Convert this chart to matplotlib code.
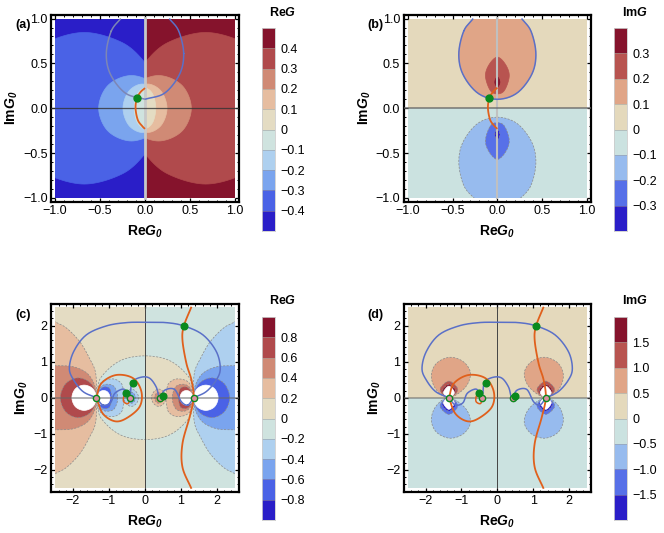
import numpy as np
import matplotlib
matplotlib.use('agg')
import matplotlib.pyplot as plt
from matplotlib.colors import ListedColormap
from matplotlib.patches import Rectangle

plt.rcParams['font.family'] = ['Liberation Sans', 'DejaVu Sans']
plt.rcParams['mathtext.fontset'] = 'custom'
plt.rcParams['mathtext.rm'] = 'Liberation Sans'
plt.rcParams['mathtext.bf'] = 'Liberation Sans:bold'
plt.rcParams['mathtext.bfit'] = 'Liberation Sans:italic:bold'

# colour levels, top of the bar first
colors10 = ['#85132c', '#b04a4c', '#d08a75', '#e6bda0', '#e4dcc3',
            '#cfe3df', '#aed0ef', '#7aa4ee', '#4a62e6', '#2a1ec8']
colors8 = ['#85132c', '#b85450', '#e0a587', '#e4d9bc',
           '#cbe2e0', '#97bbee', '#5770e8', '#2a1ec8']

ticks_a = [0.4, 0.3, 0.2, 0.1, 0, -0.1, -0.2, -0.3, -0.4]
ticks_b = [0.3, 0.2, 0.1, 0, -0.1, -0.2, -0.3]
ticks_c = [0.8, 0.6, 0.4, 0.2, 0, -0.2, -0.4, -0.6, -0.8]
ticks_d = [1.5, 1.0, 0.5, 0, -0.5, -1.0, -1.5]

# (a) contours, upper half only, on the right side
a_outer = [(-0.17, 0.0), (-0.115, 0.3), (0.0, 0.508), (0.25, 0.73), (0.675, 0.845), (1.1, 0.73),
           (1.35, 0.508), (1.52, 0.0)]
a_mid = [(-0.215, 0.0), (-0.11, 0.256), (0.15, 0.365), (0.41, 0.256), (0.515, 0.0)]
a_small = [(-0.185, 0.0), (-0.12, 0.19), (0.03, 0.27), (0.18, 0.19), (0.245, 0.0)]
a_lens = [(-0.12, 0.0), (-0.085, 0.16), (0.0, 0.225), (0.085, 0.16), (0.12, 0.0)]

# (b) contours in the upper half plane
b_egg = [(0.0, 0.1), (0.22, 0.17), (0.385, 0.38), (0.43, 0.61), (0.375, 0.86), (0.26, 1.0),
         (0.14, 1.08), (0.0, 1.1), (-0.14, 1.08), (-0.26, 1.0), (-0.375, 0.86), (-0.43, 0.61),
         (-0.385, 0.38), (-0.22, 0.17)]
b_petal = [(0.0, 0.16), (0.08, 0.2), (0.133, 0.36), (0.09, 0.49), (0.0, 0.57),
           (-0.09, 0.49), (-0.133, 0.36), (-0.08, 0.2)]
b_core = [(0.0, 0.235), (0.02, 0.26), (0.028, 0.29), (0.02, 0.325), (0.0, 0.35),
          (-0.02, 0.325), (-0.028, 0.29), (-0.02, 0.26)]

# (c) contours, upper half only, for x<0. Right side is the mirror with flipped sign
c_center = [(-1.35, 0.0), (-1.3, 0.35), (-1.21, 0.58), (-0.89, 0.9), (-0.52, 1.09), (0.0, 1.16),
            (0.52, 1.09), (0.89, 0.9), (1.21, 0.58), (1.3, 0.35), (1.35, 0.0)]
c_out1 = [(-3.0, 0.0), (-3.0, 2.45), (-2.5, 2.11), (-2.18, 1.93), (-1.81, 1.55), (-1.54, 1.09),
          (-1.37, 0.68), (-1.35, 0.0)]
c_out2 = [(-3.0, 0.0), (-3.0, 0.92), (-2.5, 0.89), (-2.0, 0.86), (-1.61, 0.68), (-1.4, 0.35), (-1.35, 0.0)]
c_out3 = [(-2.35, 0.0), (-2.2, 0.39), (-1.85, 0.55), (-1.5, 0.39), (-1.35, 0.0)]
c_hole1 = [(-2.03, 0.0), (-1.93, 0.25), (-1.69, 0.35), (-1.45, 0.25), (-1.35, 0.0)]
c_in1 = [(-1.33, 0.0), (-1.29, 0.3), (-1.15, 0.47), (-0.87, 0.52), (-0.66, 0.4), (-0.6, 0.2), (-0.58, 0.0)]
c_in2 = [(-1.33, 0.0), (-1.27, 0.25), (-1.1, 0.37), (-0.88, 0.33), (-0.78, 0.15), (-0.76, 0.0)]
c_in3 = [(-1.33, 0.0), (-1.25, 0.22), (-1.13, 0.3), (-0.98, 0.25), (-0.93, 0.0)]
c_hole2 = [(-1.33, 0.0), (-1.27, 0.15), (-1.15, 0.2), (-1.03, 0.15), (-0.97, 0.0)]
c_blob1 = [(-0.59, 0.0), (-0.52, 0.16), (-0.38, 0.24), (-0.24, 0.16), (-0.18, 0.0)]
c_blob2 = [(-0.5, 0.0), (-0.44, 0.12), (-0.36, 0.15), (-0.29, 0.09), (-0.27, 0.0)]

# (d) lobes above the axis on the left. Mirrored to all four corners
d_lobe1 = [(-1.35, 0.0), (-1.7, 0.22), (-1.84, 0.6), (-1.7, 0.95), (-1.33, 1.12),
           (-0.95, 1.0), (-0.75, 0.68), (-0.9, 0.28)]
d_lobe2 = [(-1.35, 0.0), (-1.55, 0.12), (-1.58, 0.28), (-1.35, 0.46), (-1.12, 0.28), (-1.15, 0.12)]
d_lobe3 = [(-1.35, 0.0), (-1.5, 0.12), (-1.52, 0.23), (-1.35, 0.37), (-1.18, 0.23), (-1.2, 0.12)]
d_hole = [(-1.35, 0.0), (-1.47, 0.08), (-1.49, 0.18), (-1.35, 0.32), (-1.21, 0.18), (-1.23, 0.08)]

# curves in (a) and (b)
ab_blue_x = [-0.27, -0.375, -0.43, -0.385, -0.22, 0.0, 0.22, 0.385, 0.43, 0.375, 0.27]
ab_blue_y = [1.0, 0.86, 0.61, 0.38, 0.17, 0.1, 0.17, 0.38, 0.61, 0.86, 1.0]
a_orange_x = [0.0, -0.05, -0.09, -0.105, -0.08, -0.03, 0.0]
a_orange_y = [0.225, 0.18, 0.11, 0.0, -0.13, -0.2, -0.23]
b_orange_x = [0.0, -0.05, -0.09, -0.105, -0.08, -0.03, 0.0]
b_orange_y = [0.23, 0.18, 0.11, 0.0, -0.13, -0.2, -0.23]
ab_dot = (-0.09, 0.11)

# curves shared by (c) and (d)
cd_blue_outer_x = [-1.35, -1.72, -1.98, -2.1, -1.98, -1.63, -1.07, -0.52, 0.0, 0.59, 1.08,
                   1.61, 1.98, 2.09, 1.98, 1.7, 1.35]
cd_blue_outer_y = [0.0, 0.17, 0.49, 0.81, 1.28, 1.74, 1.99, 2.08, 2.09, 2.08, 1.99,
                   1.74, 1.28, 0.81, 0.49, 0.17, 0.0]
cd_blue_left_x = [-1.35, -1.17, -0.96, -0.84, -0.61, -0.5, -0.43]
cd_blue_left_y = [0.0, -0.2, -0.14, 0.12, 0.24, 0.14, 0.0]
cd_blue_mid_x = [-0.43, -0.405, -0.35, -0.1, 0.13, 0.31, 0.38, 0.43]
cd_blue_mid_y = [0.0, 0.12, 0.44, 0.57, 0.54, 0.3, 0.05, 0.0]
cd_blue_right_x = [0.43, 0.55, 0.82, 1.01, 1.19, 1.35]
cd_blue_right_y = [0.0, 0.21, 0.23, -0.11, -0.2, 0.0]
cd_orange_right_x = [1.29, 1.08, 1.04, 1.15, 1.29, 1.35, 1.24, 1.04, 1.04, 1.29]
cd_orange_right_y = [2.52, 1.99, 1.6, 0.95, 0.49, 0.0, -0.53, -1.27, -1.92, -2.52]
cd_loop_x = [-1.35, -1.21, -0.8, -0.33, -0.1, -0.15, -0.52, -0.84, -1.17, -1.35]
cd_loop_y = [0.0, 0.4, 0.63, 0.54, 0.17, -0.25, -0.57, -0.65, -0.44, 0.0]
cd_small_x = [-0.52, -0.59, -0.59, -0.47, -0.41]
cd_small_y = [0.14, 0.03, -0.11, -0.16, 0.0]
cd_small2_x = [0.43, 0.38, 0.45, 0.5, 0.46]
cd_small2_y = [0.0, -0.05, -0.1, -0.02, 0.06]
cd_dots_x = [-0.33, -0.52, 0.5, 1.08]
cd_dots_y = [0.42, 0.14, 0.06, 1.99]
cd_open_x = [-1.35, -0.43, 0.43, 1.35]
cd_open_y = [0, 0, 0, 0]

BLUE = '#5a70c8'
ORANGE = '#e0601c'
GREEN = '#0a8a1e'


def smooth(pts, closed=False):
    # catmull-rom through the anchors, only to round off the drawn outline
    p = np.array(pts, dtype=float)
    if closed:
        p = np.vstack([p[-1], p, p[0], p[1]])
    else:
        p = np.vstack([2 * p[0] - p[1], p, 2 * p[-1] - p[-2]])
    out = []
    t = np.linspace(0, 1, 14)[:, None]
    for i in range(1, len(p) - 2):
        a, b, c, d = p[i - 1], p[i], p[i + 1], p[i + 2]
        out.append(0.5 * (2 * b + (c - a) * t + (2 * a - 5 * b + 4 * c - d) * t ** 2
                          + (3 * b - a - 3 * c + d) * t ** 3))
    return np.vstack(out)


def whole(upper):
    # close an upper half outline with its reflection in y=0
    low = [(x, -y) for x, y in upper[::-1] if y != 0]
    return list(upper) + low


def flip(pts, sx=1, sy=1):
    return [(sx * x, sy * y) for x, y in pts]


def region(ax, pts, color, box, edge=True):
    xy = smooth(pts, closed=True)
    poly = ax.fill(xy[:, 0], xy[:, 1], facecolor=color,
                   edgecolor='#8a8a8a' if edge else color,
                   lw=0.5, ls=(0, (3, 2)) if edge else '-', zorder=2)[0]
    poly.set_clip_path(Rectangle((box[0], box[2]), box[1] - box[0], box[3] - box[2],
                                 transform=ax.transData))


def curve(ax, x, y, color, lw=1.1, z=5):
    xy = smooth(list(zip(x, y)))
    ax.plot(xy[:, 0], xy[:, 1], color=color, lw=lw, zorder=z, solid_capstyle='butt')


def panel(x0, y0, x1, y1, lim, major, minor):
    ax = fig.add_axes([x0 / W, 1 - y1 / H, (x1 - x0) / W, (y1 - y0) / H])
    ax.set_xlim(-lim, lim)
    ax.set_ylim(-lim, lim)
    ax.set_xticks(major)
    ax.set_yticks(major)
    ax.set_xticks(minor, minor=True)
    ax.set_yticks(minor, minor=True)
    ax.tick_params(which='major', direction='in', length=3, width=0.9, top=True, right=True,
                   labelsize=9, pad=2.5)
    ax.tick_params(which='minor', direction='in', length=1.6, width=0.7, top=True, right=True)
    for s in ax.spines.values():
        s.set_linewidth(1.6)
    if lim < 2:
        ax.set_xticklabels(['\u22121.0', '\u22120.5', '0.0', '0.5', '1.0'])
        ax.set_yticklabels(['\u22121.0', '\u22120.5', '0.0', '0.5', '1.0'])
    else:
        ax.set_xticklabels(['\u22122', '\u22121', '0', '1', '2'])
        ax.set_yticklabels(['\u22122', '\u22121', '0', '1', '2'])
    return ax


def colorbar(x0, y0, x1, y1, colors, ticks, title, tx, ty):
    cax = fig.add_axes([x0 / W, 1 - y1 / H, (x1 - x0) / W, (y1 - y0) / H])
    step = ticks[0] - ticks[1]
    edges = np.array([ticks[-1] - step] + ticks[::-1] + [ticks[0] + step])
    cax.pcolormesh([0, 1], edges, np.arange(len(colors))[:, None],
                   cmap=ListedColormap(colors[::-1]), vmin=-0.5, vmax=len(colors) - 0.5)
    cax.set_xticks([])
    cax.yaxis.tick_right()
    cax.set_yticks(ticks)
    lab = [('0' if t == 0 else f'{t:.1f}'.replace('-', '\u2212')) for t in ticks]
    cax.set_yticklabels(lab, fontsize=9)
    cax.tick_params(axis='y', length=0, pad=4)
    for t in ticks:
        cax.axhline(t, color='#999999', lw=0.5, alpha=0.7)
    for s in cax.spines.values():
        s.set_color('#cccccc')
        s.set_linewidth(0.6)
    fig.text(tx / W, 1 - ty / H, title, ha='center', va='center', fontsize=9)


W, H = 664, 533
fig = plt.figure(figsize=(W / 100, H / 100), dpi=100)

RE_G = r'$\mathbf{Re}\mathbfit{G}$'
IM_G = r'$\mathbf{Im}\mathbfit{G}$'
RE_G0 = r'$\mathbf{Re}\mathbfit{G}_{\mathbfit{0}}$'
IM_G0 = r'$\mathbf{Im}\mathbfit{G}_{\mathbfit{0}}$'

major1 = [-1, -0.5, 0, 0.5, 1]
minor1 = [v / 10 for v in range(-10, 11)]
major2 = [-2, -1, 0, 1, 2]
minor2 = [v / 5 for v in range(-12, 13)]

# ---------- (a)
ax = panel(51, 14.5, 239, 202, 1.045, major1, minor1)
for side, idx in [(1, [0, 1, 2, 3, 4]), (-1, [9, 8, 7, 6, 5])]:
    box = (0, 1, -1, 1) if side == 1 else (-1, 0, -1, 1)
    ax.add_patch(Rectangle((box[0], -1), 1, 2, color=colors10[idx[0]], zorder=1, lw=0))
    for shape, i in zip([a_outer, a_mid, a_small, a_lens], idx[1:]):
        region(ax, whole(flip(shape, sx=side)), colors10[i], box, edge=False)
ax.axvline(0, ymin=0.02, ymax=0.98, color='#c8c8c8', lw=2, zorder=4)
ax.axhline(0, color='#333333', lw=0.9, alpha=0.8, zorder=4)
n = len(ab_blue_x) // 2 + 1
curve(ax, ab_blue_x[:n], ab_blue_y[:n], '#7d86b5')
curve(ax, ab_blue_x[n - 1:], ab_blue_y[n - 1:], BLUE)
curve(ax, a_orange_x, a_orange_y, ORANGE, lw=1.3)
ax.plot(*ab_dot, 'o', color=GREEN, ms=5, zorder=6)
ax.set_xlabel(RE_G0, fontsize=10, labelpad=4.5)
ax.set_ylabel(IM_G0, fontsize=10, labelpad=2)
colorbar(262, 28, 275, 231, colors10, ticks_a, RE_G, 283, 12)

# ---------- (b)
ax = panel(403.7, 14.5, 591, 202, 1.045, major1, minor1)
box = (-1, 1, -1, 1)
ax.add_patch(Rectangle((-1, 0), 2, 1, color=colors8[3], zorder=1, lw=0))
ax.add_patch(Rectangle((-1, -1), 2, 1, color=colors8[4], zorder=1, lw=0))
for shape, up, down in [(b_egg, 2, 5), (b_petal, 1, 6), (b_core, 0, 7)]:
    region(ax, shape, colors8[up], box, edge=False)
    region(ax, flip(shape, sy=-1), colors8[down], box)
ax.axvline(0, ymin=0.02, ymax=0.98, color='#c0c0c0', lw=1.5, zorder=4)
ax.axhline(0, color='#666666', lw=1.2, alpha=0.8, zorder=4)
curve(ax, ab_blue_x, ab_blue_y, BLUE)
curve(ax, b_orange_x, b_orange_y, ORANGE, lw=1.3)
ax.plot(*ab_dot, 'o', color=GREEN, ms=5, zorder=6)
ax.set_xlabel(RE_G0, fontsize=10, labelpad=4.5)
ax.set_ylabel(IM_G0, fontsize=10, labelpad=2)
colorbar(614, 28, 627, 231, colors8, ticks_b, IM_G, 635, 12)


def cd_curves(ax):
    ax.axvline(0, ymin=0.02, ymax=0.98, color='#444444', lw=0.7, zorder=4)
    ax.axhline(0, color='#666666', lw=1.2, alpha=0.6, zorder=4)
    curve(ax, cd_blue_outer_x, cd_blue_outer_y, BLUE)
    curve(ax, cd_blue_left_x, cd_blue_left_y, BLUE)
    curve(ax, cd_blue_mid_x, cd_blue_mid_y, BLUE)
    curve(ax, cd_blue_right_x, cd_blue_right_y, BLUE)
    curve(ax, cd_orange_right_x, cd_orange_right_y, ORANGE, lw=1.3)
    curve(ax, cd_loop_x, cd_loop_y, ORANGE, lw=1.3)
    curve(ax, cd_small_x, cd_small_y, ORANGE, lw=1.1)
    curve(ax, cd_small2_x, cd_small2_y, ORANGE, lw=1.1)
    ax.plot(cd_dots_x, cd_dots_y, 'o', color=GREEN, ms=4.8, zorder=7, ls='none')
    ax.plot(cd_open_x, cd_open_y, 'o', mfc='#d98fa0', mec=GREEN, mew=1, ms=4.5, zorder=6, ls='none')
    ax.set_xlabel(RE_G0, fontsize=10, labelpad=4.5)
    ax.set_ylabel(IM_G0, fontsize=10, labelpad=2)


# ---------- (c)
ax = panel(51, 303.5, 239, 492, 2.61, major2, minor2)
left = (-2.5, 0, -2.5, 2.5)
right = (0, 2.5, -2.5, 2.5)
ax.add_patch(Rectangle((-2.5, -2.5), 2.5, 5, color=colors10[4], zorder=1, lw=0))
ax.add_patch(Rectangle((0, -2.5), 2.5, 5, color=colors10[5], zorder=1, lw=0))
region(ax, whole(c_center), colors10[5], left)
region(ax, whole(c_center), colors10[4], right)
# outer lobes are red on the left, the inner lobes red on the right
for shape, pos, neg in [(c_out1, 3, 6), (c_out2, 2, 7), (c_out3, 1, 8)]:
    region(ax, whole(shape), colors10[pos], left)
    region(ax, whole(flip(shape, sx=-1)), colors10[neg], right)
for shape, neg, pos in [(c_in1, 6, 3), (c_in2, 7, 2), (c_in3, 8, 1),
                        (c_blob1, 6, 3), (c_blob2, 7, 2)]:
    region(ax, whole(shape), colors10[neg], left)
    region(ax, whole(flip(shape, sx=-1)), colors10[pos], right)
for shape in [c_hole1, c_hole2]:
    region(ax, whole(shape), 'white', left, edge=False)
    region(ax, whole(flip(shape, sx=-1)), 'white', right, edge=False)
cd_curves(ax)
colorbar(262, 317, 275, 520, colors10, ticks_c, RE_G, 283, 300.7)

# ---------- (d)
ax = panel(403.7, 303.5, 591, 492, 2.61, major2, minor2)
box = (-2.5, 2.5, -2.5, 2.5)
ax.add_patch(Rectangle((-2.5, 0), 5, 2.5, color=colors8[3], zorder=1, lw=0))
ax.add_patch(Rectangle((-2.5, -2.5), 5, 2.5, color=colors8[4], zorder=1, lw=0))
for sx in [-1, 1]:
    for shape, up, down in [(d_lobe1, 2, 5), (d_lobe2, 1, 6), (d_lobe3, 0, 7)]:
        region(ax, flip(shape, sx=-sx), colors8[up], box)
        region(ax, flip(shape, sx=-sx, sy=-1), colors8[down], box)
    region(ax, flip(d_hole, sx=-sx), 'white', box, edge=False)
    region(ax, flip(d_hole, sx=-sx, sy=-1), 'white', box, edge=False)
cd_curves(ax)
colorbar(614, 317, 627, 520, colors8, ticks_d, IM_G, 635, 300.7)

for lab, x, y in [('(a)', 23, 25), ('(b)', 375, 25), ('(c)', 23, 315), ('(d)', 375, 315)]:
    fig.text(x / W, 1 - y / H, lab, ha='center', va='center', fontsize=9, fontweight='bold')

fig.savefig('out.png', dpi=100)
